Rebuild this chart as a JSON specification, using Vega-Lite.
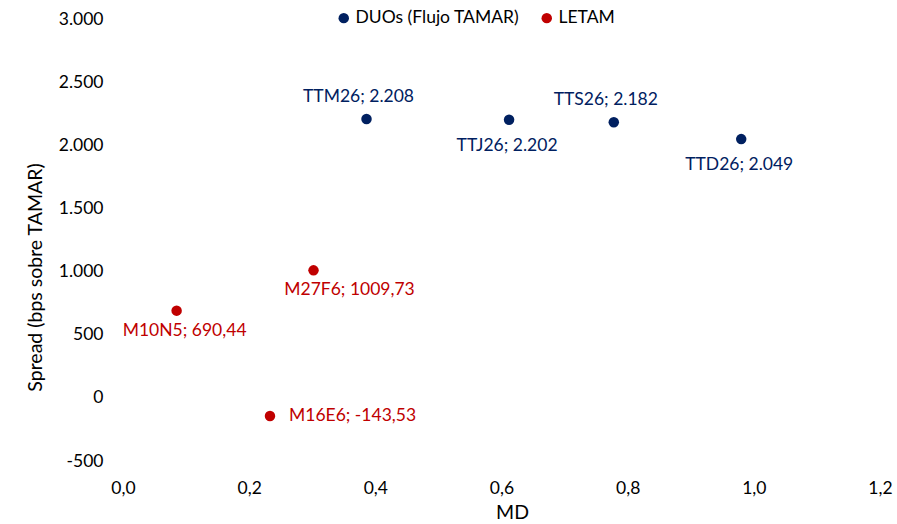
{
  "$schema": "https://vega.github.io/schema/vega-lite/v6.json",
  "width": 757,
  "height": 442,
  "autosize": {"type": "none"},
  "padding": {"left": 123, "top": 19, "right": 17, "bottom": 63},
  "config": {
    "locale": {"number": {"decimal": ",", "thousands": ".", "grouping": [3], "currency": ["", " €"], "minus": "-"}},
    "view": {"stroke": null},
    "font": "Lato",
    "axis": {
      "domain": false, "ticks": false, "grid": false, "labelFlush": false,
      "labelFont": "Lato", "labelFontSize": 17.5, "labelColor": "#000000",
      "titleFont": "Lato", "titleFontSize": 19.5, "titleFontWeight": "normal", "titleColor": "#000000"
    }
  },
  "data": {
    "values": [
      {"name": "TTM26", "serie": "DUOs (Flujo TAMAR)", "md": 0.386, "spread": 2208, "label": "TTM26; 2.208"},
      {"name": "TTJ26", "serie": "DUOs (Flujo TAMAR)", "md": 0.612, "spread": 2202, "label": "TTJ26; 2.202"},
      {"name": "TTS26", "serie": "DUOs (Flujo TAMAR)", "md": 0.778, "spread": 2182, "label": "TTS26; 2.182"},
      {"name": "TTD26", "serie": "DUOs (Flujo TAMAR)", "md": 0.980, "spread": 2049, "label": "TTD26; 2.049"},
      {"name": "M27F6", "serie": "LETAM", "md": 0.302, "spread": 1009.73, "label": "M27F6; 1009,73"},
      {"name": "M10N5", "serie": "LETAM", "md": 0.085, "spread": 690.44, "label": "M10N5; 690,44"},
      {"name": "M16E6", "serie": "LETAM", "md": 0.233, "spread": -143.53, "label": "M16E6; -143,53"}
    ]
  },
  "encoding": {
    "x": {
      "field": "md", "type": "quantitative",
      "scale": {"domain": [0, 1.2], "nice": false, "zero": false},
      "axis": {"title": "MD", "format": ".1f", "values": [0, 0.2, 0.4, 0.6, 0.8, 1.0, 1.2], "labelPadding": 18, "titleX": 389, "titleY": 57, "titleBaseline": "alphabetic"}
    },
    "y": {
      "field": "spread", "type": "quantitative",
      "scale": {"domain": [-500, 3000], "nice": false, "zero": false},
      "axis": {"title": "Spread (bps sobre TAMAR)", "format": ",.0f", "values": [-500, 0, 500, 1000, 1500, 2000, 2500, 3000], "labelPadding": 20, "titleX": -88, "titleY": 258, "titleBaseline": "middle"}
    },
    "color": {
      "field": "serie", "type": "nominal",
      "scale": {"domain": ["DUOs (Flujo TAMAR)", "LETAM"], "range": ["#002060", "#C00000"]},
      "legend": null
    }
  },
  "layer": [
    {
      "mark": {"type": "point", "filled": true, "opacity": 1, "size": 110, "shape": "circle"},
      "encoding": {
        "color": {
          "field": "serie", "type": "nominal",
          "scale": {"domain": ["DUOs (Flujo TAMAR)", "LETAM"], "range": ["#002060", "#C00000"]},
          "legend": {
            "title": null, "orient": "none", "legendX": 212, "legendY": -10, "direction": "horizontal",
            "symbolType": "circle", "symbolSize": 110, "labelFont": "Lato", "labelFontSize": 17.5, "labelColor": "#000000",
            "labelLimit": 400, "columnPadding": 18, "labelOffset": 3
          }
        }
      }
    },
    {
      "transform": [{"filter": {"field": "name", "oneOf": ["TTM26", "TTS26"]}}],
      "mark": {"type": "text", "fontSize": 17.5, "font": "Lato", "align": "center", "baseline": "middle", "dx": -8, "dy": -22},
      "encoding": {"text": {"field": "label"}}
    },
    {
      "transform": [{"filter": {"field": "name", "oneOf": ["TTJ26", "TTD26"]}}],
      "mark": {"type": "text", "fontSize": 17.5, "font": "Lato", "align": "center", "baseline": "middle", "dx": -2, "dy": 26},
      "encoding": {"text": {"field": "label"}}
    },
    {
      "transform": [{"filter": {"field": "name", "equal": "M10N5"}}],
      "mark": {"type": "text", "fontSize": 17.5, "font": "Lato", "align": "center", "baseline": "middle", "dx": 8, "dy": 20},
      "encoding": {"text": {"field": "label"}}
    },
    {
      "transform": [{"filter": {"field": "name", "equal": "M27F6"}}],
      "mark": {"type": "text", "fontSize": 17.5, "font": "Lato", "align": "center", "baseline": "middle", "dx": 36, "dy": 20},
      "encoding": {"text": {"field": "label"}}
    },
    {
      "transform": [{"filter": {"field": "name", "equal": "M16E6"}}],
      "mark": {"type": "text", "fontSize": 17.5, "font": "Lato", "align": "left", "baseline": "middle", "dx": 19, "dy": 0},
      "encoding": {"text": {"field": "label"}}
    }
  ]
}
